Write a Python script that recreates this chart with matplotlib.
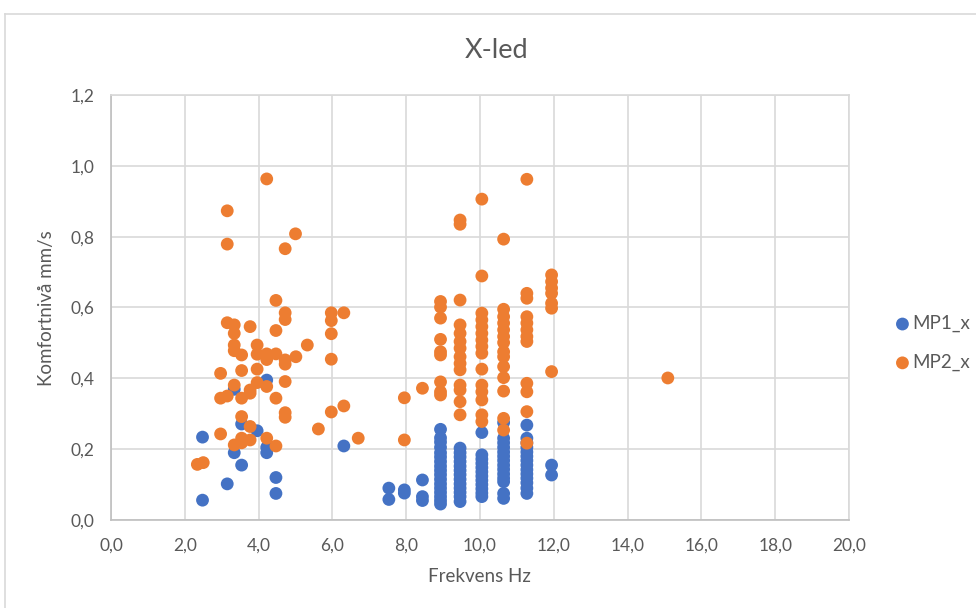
import matplotlib
matplotlib.use("Agg")
import matplotlib.pyplot as plt
from matplotlib.lines import Line2D
from matplotlib.ticker import FuncFormatter, MultipleLocator

plt.rcParams['font.family'] = ['Lato', 'DejaVu Sans']

title = "X-led"
x_label = "Frekvens Hz"
y_label = "Komfortnivå mm/s"
series_names = ["MP1_x", "MP2_x"]

mp1_freq = [2.48, 2.48, 3.15, 3.34, 3.34, 3.54, 3.54, 3.96, 4.22, 4.22, 4.22, 4.47, 4.47, 6.31,
            7.53, 7.53,
            7.95, 7.95,
            8.44, 8.44, 8.44,
            8.93, 8.93, 8.93, 8.93, 8.93, 8.93, 8.93, 8.93, 8.93, 8.93, 8.93, 8.93, 8.93, 8.93, 8.93, 8.93, 8.93,
            9.46, 9.46, 9.46, 9.46, 9.46, 9.46, 9.46, 9.46, 9.46, 9.46, 9.46, 9.46, 9.46,
            10.05, 10.05, 10.05, 10.05, 10.05, 10.05, 10.05, 10.05, 10.05, 10.05, 10.05, 10.05,
            10.64, 10.64, 10.64, 10.64, 10.64, 10.64, 10.64, 10.64, 10.64, 10.64, 10.64, 10.64, 10.64, 10.64,
            11.27, 11.27, 11.27, 11.27, 11.27, 11.27, 11.27, 11.27, 11.27, 11.27, 11.27, 11.27, 11.27, 11.27,
            11.94, 11.94]
mp1_level = [0.234, 0.056, 0.102, 0.369, 0.190, 0.271, 0.155, 0.252, 0.395, 0.205, 0.190, 0.120, 0.075, 0.209,
             0.090, 0.058,
             0.085, 0.076,
             0.113, 0.066, 0.055,
             0.256, 0.232, 0.220, 0.205, 0.190, 0.178, 0.165, 0.152, 0.140, 0.128, 0.115, 0.102, 0.090, 0.078, 0.066, 0.055, 0.045,
             0.203, 0.190, 0.178, 0.165, 0.152, 0.140, 0.128, 0.115, 0.102, 0.090, 0.078, 0.066, 0.052,
             0.247, 0.184, 0.172, 0.160, 0.148, 0.136, 0.124, 0.112, 0.100, 0.088, 0.076, 0.066,
             0.275, 0.231, 0.218, 0.205, 0.192, 0.180, 0.168, 0.155, 0.143, 0.130, 0.118, 0.108, 0.075, 0.061,
             0.268, 0.231, 0.218, 0.205, 0.192, 0.180, 0.168, 0.155, 0.142, 0.130, 0.118, 0.105, 0.090, 0.075,
             0.155, 0.127]

mp2_freq = [2.34, 2.50, 2.97, 2.97, 2.97, 3.15, 3.15, 3.15, 3.15,
            3.34, 3.34, 3.34, 3.34, 3.34, 3.34,
            3.54, 3.54, 3.54, 3.54, 3.54, 3.54,
            3.77, 3.77, 3.77, 3.77, 3.77,
            3.96, 3.96, 3.96, 3.96,
            4.22, 4.22, 4.22, 4.22, 4.22,
            4.47, 4.47, 4.47, 4.47, 4.47,
            4.72, 4.72, 4.72, 4.72, 4.72, 4.72, 4.72, 4.72,
            5.00, 5.01, 5.32, 5.62,
            5.97, 5.97, 5.97, 5.97, 5.97,
            6.31, 6.31, 6.70,
            7.95, 7.95, 8.44,
            8.93, 8.93, 8.93, 8.93, 8.93, 8.93, 8.93, 8.93, 8.93,
            9.46, 9.46, 9.46, 9.46, 9.46, 9.46, 9.46, 9.46, 9.46, 9.46, 9.46, 9.46, 9.46, 9.46,
            10.05, 10.05, 10.05, 10.05, 10.05, 10.05, 10.05, 10.05, 10.05, 10.05, 10.05, 10.05, 10.05, 10.05, 10.05,
            10.64, 10.64, 10.64, 10.64, 10.64, 10.64, 10.64, 10.64, 10.64, 10.64, 10.64, 10.64, 10.64, 10.64,
            11.27, 11.27, 11.27, 11.27, 11.27, 11.27, 11.27, 11.27, 11.27, 11.27, 11.27, 11.27,
            11.94, 11.94, 11.94, 11.94, 11.94, 11.94, 11.94,
            15.09]
mp2_level = [0.157, 0.162, 0.243, 0.344, 0.414, 0.873, 0.779, 0.557, 0.350,
             0.551, 0.527, 0.494, 0.478, 0.381, 0.212,
             0.466, 0.422, 0.344, 0.292, 0.231, 0.218,
             0.546, 0.367, 0.358, 0.264, 0.226,
             0.494, 0.468, 0.426, 0.388,
             0.963, 0.469, 0.453, 0.377, 0.231,
             0.620, 0.535, 0.469, 0.344, 0.209,
             0.766, 0.585, 0.566, 0.452, 0.440, 0.391, 0.303, 0.290,
             0.808, 0.461, 0.494, 0.257,
             0.585, 0.563, 0.526, 0.454, 0.305,
             0.585, 0.322, 0.231,
             0.345, 0.226, 0.372,
             0.617, 0.601, 0.570, 0.510, 0.475, 0.466, 0.390, 0.362, 0.353,
             0.847, 0.835, 0.621, 0.551, 0.527, 0.504, 0.485, 0.461, 0.442, 0.424, 0.381, 0.367, 0.334, 0.297,
             0.906, 0.689, 0.584, 0.565, 0.546, 0.527, 0.508, 0.490, 0.471, 0.426, 0.381, 0.362, 0.339, 0.297, 0.278,
             0.793, 0.595, 0.574, 0.556, 0.537, 0.518, 0.501, 0.475, 0.461, 0.433, 0.402, 0.364, 0.287, 0.254,
             0.962, 0.640, 0.626, 0.574, 0.556, 0.537, 0.518, 0.504, 0.386, 0.362, 0.306, 0.217,
             0.692, 0.673, 0.655, 0.640, 0.612, 0.598, 0.419,
             0.401]

BLUE = "#4472C4"
ORANGE = "#ED7D31"
TXT = "#595959"
GRID = "#D9D9D9"

W, H = 976, 608
fig = plt.figure(figsize=(W / 100, H / 100), dpi=100)
ax = fig.add_axes([111 / W, 1 - 520 / H, (849 - 111) / W, (520 - 95) / H])

ax.scatter(mp1_freq, mp1_level, s=85, color=BLUE, edgecolors='none', zorder=3, label=series_names[0])
ax.scatter(mp2_freq, mp2_level, s=85, color=ORANGE, edgecolors='none', zorder=4, label=series_names[1])

ax.set_xlim(0, 20)
ax.set_ylim(0, 1.2)
ax.xaxis.set_major_locator(MultipleLocator(2))
ax.yaxis.set_major_locator(MultipleLocator(0.2))
fmt = FuncFormatter(lambda v, p: f"{v:.1f}".replace(".", ","))
ax.xaxis.set_major_formatter(fmt)
ax.yaxis.set_major_formatter(fmt)
ax.grid(True, color=GRID, linewidth=1.2, zorder=0)
ax.set_axisbelow(True)
for sp in ax.spines.values():
    sp.set_color(GRID)
    sp.set_linewidth(1.2)
ax.spines['bottom'].set_color("#BFBFBF")
ax.spines['left'].set_color("#BFBFBF")
ax.tick_params(axis='both', length=0, labelsize=12.5, labelcolor=TXT)
ax.tick_params(axis='y', pad=12)
ax.tick_params(axis='x', pad=13)

fig.text(497 / W, 1 - 50 / H, title, ha='center', va='center', fontsize=19.5, color=TXT)
fig.text(479 / W, 1 - 577 / H, x_label, ha='center', va='center', fontsize=13.5, color=TXT)
fig.text(47 / W, 1 - 308 / H, y_label, ha='center', va='center', rotation=90, fontsize=13.5, color=TXT)

leg = fig.legend(loc='center left', bbox_to_anchor=(894 / W, 1 - 343 / H), frameon=False,
                 fontsize=13.5, labelcolor=TXT, handletextpad=0.05, handlelength=0.9,
                 labelspacing=1.15, borderpad=0, borderaxespad=0, markerscale=1.0)

# outer chart border
fig.add_artist(Line2D([5 / W, 1.0], [1 - 14 / H, 1 - 14 / H], color=GRID, linewidth=1.2))
fig.add_artist(Line2D([5 / W, 5 / W], [0.0, 1 - 14 / H], color=GRID, linewidth=1.2))

fig.savefig("out.png", dpi=100, facecolor="white")
